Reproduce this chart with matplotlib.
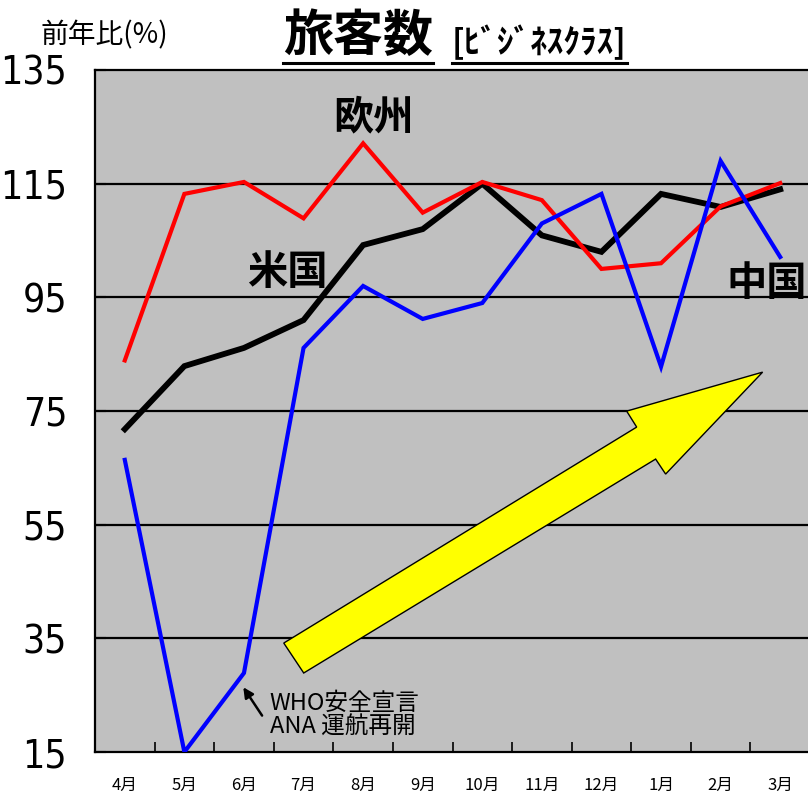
import matplotlib
matplotlib.use("Agg")
import matplotlib.pyplot as plt
from matplotlib.patches import Polygon
from matplotlib.lines import Line2D

plt.rcParams['font.family'] = ['Noto Sans CJK JP', 'DejaVu Sans']

# データ
months = ["4月", "5月", "6月", "7月", "8月", "9月", "10月", "11月", "12月", "1月", "2月", "3月"]
europe = [83.9, 113.2, 115.3, 108.9, 122.1, 109.9, 115.3, 112.1, 100.0, 101.0, 111.0, 115.1]
usa = [71.8, 82.9, 86.1, 91.0, 104.2, 107.0, 115.0, 105.9, 103.0, 113.2, 110.9, 114.0]
china = [66.4, 15.0, 28.9, 86.1, 97.0, 91.2, 94.0, 108.0, 113.2, 82.8, 119.0, 102.1]
yticks = [15, 35, 55, 75, 95, 115, 135]

W, H = 808, 800
fig = plt.figure(figsize=(W / 100, H / 100), dpi=100)
ax = fig.add_axes([95 / W, 48 / H, 715 / W, 682 / H])
ax.set_facecolor("#C0C0C0")

x = list(range(len(months)))
ax.plot(x, usa, color="black", lw=4.2, solid_joinstyle="miter", zorder=3)
ax.plot(x, europe, color="#FF0000", lw=3.0, solid_joinstyle="miter", zorder=4)
ax.plot(x, china, color="#0000FF", lw=3.0, solid_joinstyle="miter", zorder=5)

ax.set_xlim(-0.5, 11.5)
ax.set_ylim(15, 135)

# 横線
for v in yticks[1:-1]:
    ax.axhline(v, color="black", lw=1.6, zorder=1)

ax.set_yticks(yticks)
ax.set_yticklabels([str(v) for v in yticks], family='DejaVu Sans',
                   stretch='condensed', fontsize=28)
ax.tick_params(axis="y", direction="in", length=8, width=1.5, pad=20)

ax.set_xticks(x)
ax.set_xticklabels(months, fontsize=12)
ax.tick_params(axis="x", which="major", length=0, pad=18)
ax.set_xticks([i + 0.5 for i in x[:-1]], minor=True)
ax.tick_params(axis="x", which="minor", direction="in", length=7, width=1.2)

for s in ax.spines.values():
    s.set_linewidth(1.6)

# 黄色の矢印
arrow_pts = [(2.668, 34.17), (8.591, 72.17), (8.423, 74.98), (10.705, 81.84),
             (9.077, 63.9), (8.909, 66.54), (3.003, 28.9)]
ax.add_patch(Polygon(arrow_pts, closed=True, facecolor="#FFFF00",
                     edgecolor="black", lw=1, zorder=2))

# 系列ラベル
ax.text(4.18, 126.5, "欧州", fontsize=29, fontweight="bold", ha="center", va="center", zorder=6)
ax.text(2.72, 99.4, "米国", fontsize=29, fontweight="bold", ha="center", va="center", zorder=6)
ax.text(10.77, 97.5, "中国", fontsize=29, fontweight="bold", ha="center", va="center", zorder=6)

# 注記
ax.annotate("", xy=(1.963, 26.8), xytext=(2.33, 21.0),
            arrowprops=dict(arrowstyle="-|>", color="black", lw=1.8, mutation_scale=15),
            zorder=6)
ax.text(2.43, 25.6, "WHO安全宣言\nANA 運航再開", fontsize=17, ha="left", va="top",
        linespacing=1.05, zorder=6)

# タイトル
t1 = fig.text(283 / W, 1 - 36 / H, "旅客数", fontsize=36, fontweight="bold",
              ha="left", va="center")
t2 = fig.text(452 / W, 1 - 42 / H, "[ﾋﾞｼﾞﾈｽｸﾗｽ]", fontsize=24, fontweight="bold",
              ha="left", va="center")
fig.text(40 / W, 1 - 35 / H, "前年比(%)", fontsize=20, ha="left", va="center")

fig.canvas.draw()
r = fig.canvas.get_renderer()
for t in (t1, t2):
    bb = t.get_window_extent(r)
    fig.add_artist(Line2D([bb.x0 / W, bb.x1 / W], [1 - 63 / H, 1 - 63 / H],
                          color="black", lw=2.2, transform=fig.transFigure))

fig.savefig("out.png", dpi=100)
